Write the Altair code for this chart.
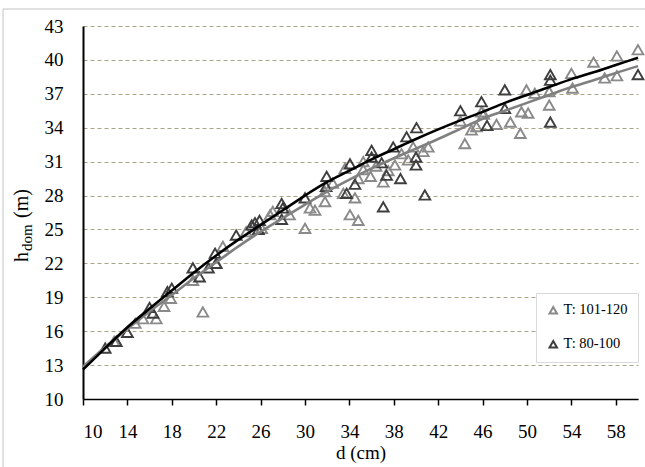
import altair as alt
import pandas as pd

# ---------------- data ----------------
series_names = ["T: 101-120", "T: 80-100"]

gray_d = [12.8, 14.7, 15.4, 16.6, 17.3, 17.9, 19.9, 20.8, 22.0, 22.6,
          24.7, 26.1, 26.85, 27.1, 28.6, 30.0, 30.45, 30.9, 31.8, 31.8,
          32.5, 33.45, 33.6, 34.05, 34.5, 34.8, 34.8, 35.25, 35.25, 35.9,
          36.4, 37.05, 37.5, 38.1, 38.7, 39.3, 39.75, 40.65, 41.1, 44.0,
          44.4, 45.0, 45.45, 45.9, 46.1, 47.25, 48.5, 49.4, 49.5, 50.1,
          49.95, 50.7, 52.0, 52.0, 54.0, 54.1, 56.0, 57.0, 58.1, 58.1, 60.0]
gray_h = [15.1, 16.7, 17.1, 17.1, 18.2, 18.9, 20.5, 17.7, 22.0, 23.5,
          24.8, 25.1, 26.3, 26.6, 26.3, 25.1, 26.9, 26.7, 27.46, 28.35,
          29.1, 28.2, 30.4, 26.3, 27.8, 29.5, 25.8, 31.0, 30.3, 29.7,
          30.6, 29.2, 30.2, 30.7, 31.7, 31.15, 32.3, 31.9, 32.3, 34.6,
          32.6, 33.8, 34.1, 35.4, 35.2, 34.3, 34.5, 33.5, 35.4, 35.3,
          37.35, 37.05, 37.2, 36.0, 38.8, 37.5, 39.8, 38.4, 40.35, 38.6, 40.9]

dark_d = [12.0, 13.0, 14.0, 16.0, 16.3, 17.6, 18.0, 19.9, 20.5, 21.3,
          21.9, 22.0, 23.8, 25.2, 25.5, 25.9, 25.8, 27.9, 27.9, 28.0,
          30.0, 31.95, 31.9, 33.75, 34.05, 34.5, 36.0, 36.0, 36.9, 37.35,
          37.05, 37.95, 38.6, 39.15, 40.05, 40.0, 40.0, 40.8, 44.0, 45.9,
          46.4, 48.0, 48.0, 52.1, 52.1, 52.1, 60.0]
dark_h = [14.5, 15.1, 15.9, 18.1, 17.6, 19.5, 19.8, 21.6, 20.8, 21.6,
          22.9, 22.0, 24.5, 25.4, 25.6, 25.8, 25.0, 27.3, 25.9, 26.9,
          27.8, 29.7, 28.8, 28.2, 30.8, 29.0, 32.0, 31.4, 30.9, 29.8,
          27.0, 32.3, 29.5, 33.2, 34.0, 31.4, 30.7, 28.05, 35.5, 36.3,
          34.2, 37.35, 35.7, 38.7, 38.2, 34.5, 38.7]

fit_d = [10, 12, 14, 16, 18, 20, 22, 24, 26, 28, 30, 32, 34, 36, 38,
         40, 42, 44, 46, 48, 50, 52, 54, 56, 58, 60]
fit_dark_h = [12.6, 14.5, 16.35, 18.0, 19.6, 21.2, 22.7, 24.1, 25.4, 26.7,
              28.0, 29.2, 30.2, 31.2, 32.1, 33.0, 33.85, 34.65, 35.4, 36.2,
              36.9, 37.6, 38.3, 38.9, 39.55, 40.2]
fit_gray_h = [12.85, 14.6, 16.2, 17.75, 19.2, 20.7, 22.1, 23.5, 24.8, 26.0,
              27.2, 28.35, 29.4, 30.4, 31.3, 32.15, 33.0, 33.9, 34.8, 35.5,
              36.2, 36.9, 37.6, 38.2, 38.85, 39.45]

x_ticks = [10, 14, 18, 22, 26, 30, 34, 38, 42, 46, 50, 54, 58]
y_ticks = [10, 13, 16, 19, 22, 25, 28, 31, 34, 37, 40, 43]

# ---------------- tables ----------------
pts = pd.DataFrame({
    "d": gray_d + dark_d,
    "h": gray_h + dark_h,
    "s": [series_names[0]] * len(gray_d) + [series_names[1]] * len(dark_d),
})
fit_dark = pd.DataFrame({"d": fit_d, "h": fit_dark_h})
fit_gray = pd.DataFrame({"d": fit_d, "h": fit_gray_h})
one = pd.DataFrame({"k": [0]})

FONT = "Liberation Serif"
GRAY_PT = "#8a8a8a"
DARK_PT = "#3e3e3e"

x_enc = alt.X("d:Q", scale=alt.Scale(domain=[10, 60], nice=False, zero=False),
              axis=alt.Axis(values=x_ticks, title="d (cm)", grid=False,
                            domainColor="#000", domainWidth=1.5,
                            tickColor="#000", tickSize=6, tickWidth=1.5,
                            labelPadding=17, labelFont=FONT, labelFontSize=19,
                            labelColor="#000", titleFont=FONT, titleFontSize=19,
                            titleFontWeight="normal", titleColor="#000",
                            titlePadding=2))
y_enc = alt.Y("h:Q", scale=alt.Scale(domain=[10, 43], nice=False, zero=False),
              axis=alt.Axis(values=y_ticks, title=None, grid=True,
                            gridColor="#aaa387", gridDash=[4, 3], gridWidth=1,
                            domainColor="#000", domainWidth=2,
                            ticks=False, tickSize=0, labelPadding=20,
                            labelFont=FONT, labelFontSize=19, labelColor="#000"))

border = alt.Chart(one).mark_rect(fillOpacity=0, stroke="#c4c4c4", strokeWidth=1).encode(
    x=alt.value(-80), x2=alt.value(700), y=alt.value(-17), y2=alt.value(520))

points = alt.Chart(pts).mark_point(shape="triangle-up", filled=False, size=115,
                                   strokeWidth=1.9, opacity=1).encode(
    x=x_enc, y=y_enc,
    stroke=alt.Stroke("s:N", scale=alt.Scale(domain=series_names, range=[GRAY_PT, DARK_PT]),
                      legend=alt.Legend(title=None, orient="none", legendX=453, legendY=267,
                                        direction="vertical", fillColor="white",
                                        strokeColor="#d9d9d9", padding=10, rowPadding=18,
                                        labelFont=FONT, labelFontSize=14.5, labelColor="#000",
                                        labelOffset=3, symbolType="triangle-up",
                                        symbolSize=55, symbolStrokeWidth=2)),
)

line_gray = alt.Chart(fit_gray).mark_line(interpolate="monotone", strokeWidth=2.6,
                                          color="#808080").encode(x=x_enc, y=y_enc)
line_dark = alt.Chart(fit_dark).mark_line(interpolate="monotone", strokeWidth=2.6,
                                          color="#000000").encode(x=x_enc, y=y_enc)

t_h = alt.Chart(one).mark_text(text="h", angle=270, align="left", baseline="alphabetic",
                               font=FONT, fontSize=20, color="#000").encode(
    x=alt.value(-55), y=alt.value(236))
t_dom = alt.Chart(one).mark_text(text="dom", angle=270, align="left", baseline="alphabetic",
                                 font=FONT, fontSize=15, color="#000").encode(
    x=alt.value(-51), y=alt.value(225))
t_m = alt.Chart(one).mark_text(text="(m)", angle=270, align="left", baseline="alphabetic",
                               font=FONT, fontSize=20, color="#000").encode(
    x=alt.value(-55), y=alt.value(192))

chart = alt.layer(border, points, line_gray, line_dark, t_h, t_dom, t_m).properties(
    width=555, height=373,
    padding={"left": 83, "top": 26, "right": 7, "bottom": 68},
    autosize=alt.AutoSizeParams(type="none"),
    background="white",
).configure_view(strokeWidth=0)

chart.save("out.html", embed_options={"renderer": "svg", "actions": False})
